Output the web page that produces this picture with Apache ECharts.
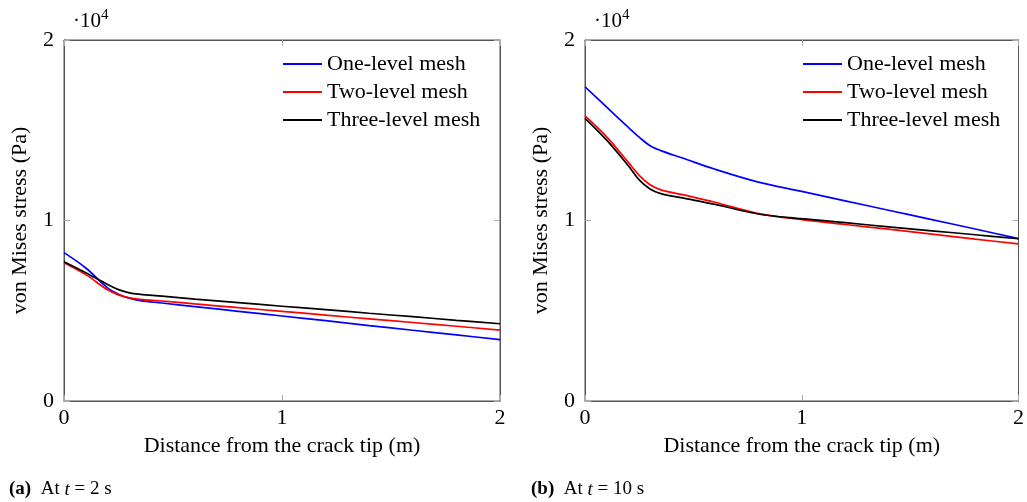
<!DOCTYPE html>
<html>
<head>
<meta charset="utf-8">
<script src="https://cdn.jsdelivr.net/npm/echarts@6/dist/echarts.min.js"></script>
<style>
  html, body { margin: 0; padding: 0; background: #fff; }
  #chart { width: 1027px; height: 502px; }
</style>
</head>
<body>
<div id="chart"></div>
<script>
// Distance from the crack tip (m)
const distance = [0, 0.1, 0.2, 0.25, 0.3, 0.35, 0.45, 0.6, 0.8, 1.0, 1.2, 1.4, 1.6, 1.8, 2.0];

// von Mises stress (Pa) at t = 2 s
const oneLevelT2   = [8220, 7370, 6270, 5920, 5700, 5560, 5430, 5230, 4970, 4710, 4450, 4180, 3920, 3660, 3400];
const twoLevelT2   = [7660, 7000, 6160, 5880, 5710, 5630, 5540, 5380, 5170, 4970, 4760, 4550, 4350, 4140, 3930];
const threeLevelT2 = [7720, 7110, 6450, 6170, 5990, 5910, 5810, 5640, 5450, 5250, 5060, 4860, 4670, 4470, 4280];

// von Mises stress (Pa) at t = 10 s
const oneLevelT10   = [17410, 16280, 15160, 14620, 14140, 13870, 13460, 12840, 12130, 11610, 11090, 10570, 10050, 9530, 9000];
const twoLevelT10   = [15790, 14630, 13220, 12500, 11980, 11700, 11430, 11010, 10380, 10050, 9780, 9520, 9250, 8970, 8700];
const threeLevelT10 = [15660, 14450, 13030, 12250, 11750, 11490, 11250, 10890, 10360, 10100, 9880, 9650, 9430, 9210, 8990];

const seriesNames = ['One-level mesh', 'Two-level mesh', 'Three-level mesh'];
const seriesColors = ['#0000ff', '#ff0000', '#000000'];
const yTicks = ['0', '1', '2'];

const FONT = '"Liberation Serif", "DejaVu Serif", serif';
const frameColor = '#555';
const tickColor = '#aaa';

function pairs(ys) { return distance.map((x, i) => [x, ys[i]]); }

function bottomX(grid) {
  return {
    type: 'value', gridIndex: grid, position: 'bottom', min: 0, max: 2, interval: 1,
    name: 'Distance from the crack tip (m)', nameLocation: 'middle', nameGap: 34,
    nameTextStyle: { fontFamily: FONT, fontSize: 22, color: '#000' },
    axisLine: { onZero: false, lineStyle: { color: frameColor, width: 1 } },
    axisTick: { inside: true, length: 6, lineStyle: { color: tickColor } },
    axisLabel: { fontFamily: FONT, fontSize: 22, color: '#000', margin: 6 },
    splitLine: { show: false }
  };
}
function topX(grid) {
  return {
    type: 'value', gridIndex: grid, position: 'top', min: 0, max: 2, interval: 1,
    axisLine: { show: true, onZero: false, lineStyle: { color: frameColor, width: 1 } },
    axisTick: { show: true, inside: true, length: 6, lineStyle: { color: tickColor } },
    axisLabel: { show: false }, splitLine: { show: false }
  };
}
function leftY(grid) {
  return {
    type: 'value', gridIndex: grid, position: 'left', min: 0, max: 20000, interval: 10000,
    name: 'von Mises stress (Pa)', nameLocation: 'middle', nameGap: 33,
    nameTextStyle: { fontFamily: FONT, fontSize: 22, color: '#000' },
    axisLine: { show: true, onZero: false, lineStyle: { color: frameColor, width: 1 } },
    axisTick: { show: true, inside: true, length: 6, lineStyle: { color: tickColor } },
    axisLabel: { fontFamily: FONT, fontSize: 22, color: '#000', margin: 10,
                 formatter: v => yTicks[Math.round(v / 10000)] },
    splitLine: { show: false }
  };
}
function rightY(grid) {
  return {
    type: 'value', gridIndex: grid, position: 'right', min: 0, max: 20000, interval: 10000,
    axisLine: { show: true, onZero: false, lineStyle: { color: frameColor, width: 1 } },
    axisTick: { show: true, inside: true, length: 6, lineStyle: { color: tickColor } },
    axisLabel: { show: false }, splitLine: { show: false }
  };
}

function lineSeries(name, color, ys, axisIdx) {
  return {
    type: 'line', name: name, data: pairs(ys),
    xAxisIndex: axisIdx, yAxisIndex: axisIdx,
    showSymbol: false, smooth: 0.35, animation: false,
    lineStyle: { color: color, width: 1.7 }, itemStyle: { color: color }
  };
}

// empty series so the mirrored top/right axes of each panel are drawn
function frameSeries(axisIdx) {
  return { type: 'line', data: [], xAxisIndex: axisIdx, yAxisIndex: axisIdx, silent: true };
}

function legendAt(left) {
  return {
    orient: 'vertical', left: left, top: 53, padding: 0, itemGap: 6,
    icon: 'rect', itemWidth: 39, itemHeight: 2,
    data: seriesNames,
    textStyle: { fontFamily: FONT, fontSize: 22, lineHeight: 22, color: '#000' },
    selectedMode: false
  };
}

const multiplierRich = {
  a: { fontSize: 21, fontFamily: FONT, fill: '#000', verticalAlign: 'bottom' },
  s: { fontSize: 15, fontFamily: FONT, fill: '#000', verticalAlign: 'top', padding: [0, 0, 9, 0] }
};
const captionRich = {
  b: { fontWeight: 'bold', fontFamily: FONT, fontSize: 19 },
  i: { fontStyle: 'italic', fontFamily: FONT, fontSize: 19 }
};

const chart = echarts.init(document.getElementById('chart'), null, { renderer: 'canvas' });

chart.setOption({
  backgroundColor: '#fff',
  animation: false,
  grid: [
    { left: 64, right: 527, top: 40, bottom: 101, show: true, borderColor: frameColor, borderWidth: 1 },
    { left: 585, right: 6, top: 40, bottom: 101, show: true, borderColor: frameColor, borderWidth: 1 }
  ],
  xAxis: [bottomX(0), topX(0), bottomX(1), topX(1)],
  yAxis: [leftY(0), rightY(0), leftY(1), rightY(1)],
  legend: [legendAt(283), legendAt(803)],
  series: [
    frameSeries(1),
    frameSeries(3),
    lineSeries(seriesNames[0], seriesColors[0], oneLevelT2, 0),
    lineSeries(seriesNames[1], seriesColors[1], twoLevelT2, 0),
    lineSeries(seriesNames[2], seriesColors[2], threeLevelT2, 0),
    lineSeries(seriesNames[0], seriesColors[0], oneLevelT10, 2),
    lineSeries(seriesNames[1], seriesColors[1], twoLevelT10, 2),
    lineSeries(seriesNames[2], seriesColors[2], threeLevelT10, 2)
  ],
  graphic: [
    // axis multiplier labels
    { type: 'text', left: 73, top: 8, style: { text: '{a|·10}{s|4}', fontFamily: FONT, rich: multiplierRich } },
    { type: 'text', left: 594, top: 8, style: { text: '{a|·10}{s|4}', fontFamily: FONT, rich: multiplierRich } },
    // sub-figure captions
    { type: 'text', left: 9, top: 480, style: {
        text: '{b|(a)}  At {i|t} = 2 s', fontFamily: FONT, fontSize: 19, fill: '#000', rich: captionRich } },
    { type: 'text', left: 531, top: 480, style: {
        text: '{b|(b)}  At {i|t} = 10 s', fontFamily: FONT, fontSize: 19, fill: '#000', rich: captionRich } }
  ]
});
</script>
</body>
</html>
